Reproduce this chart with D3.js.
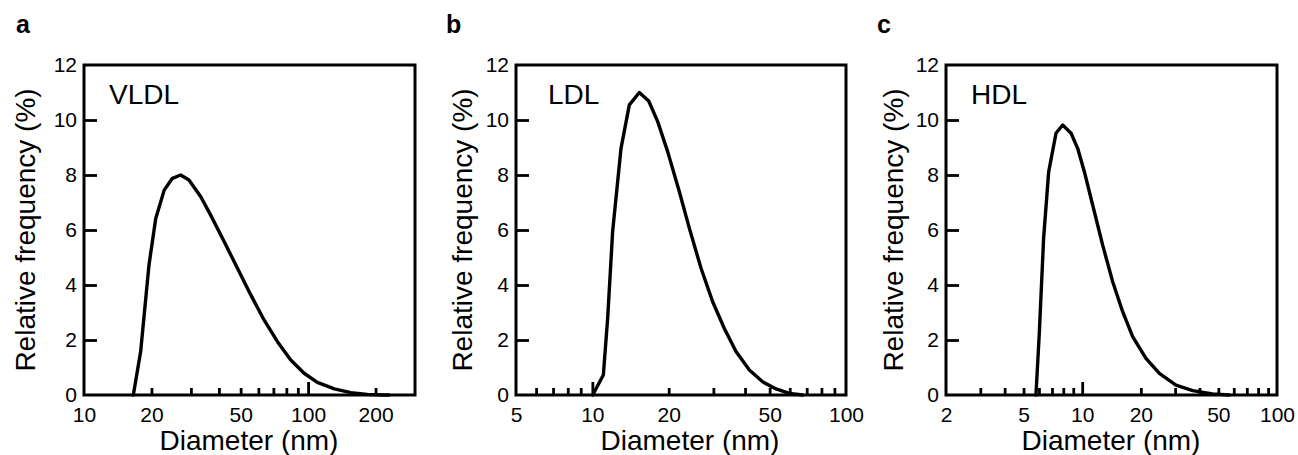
<!DOCTYPE html>
<html><head><meta charset="utf-8">
<script src="https://cdn.jsdelivr.net/npm/d3@7"></script>
<style>body{margin:0;background:#fff}</style>
</head><body>
<svg id="chart" width="1298" height="455"></svg>
<script>
// ---- data ----
const vldlDiameter = [16.6, 17.9, 19.5, 20.9, 22.8, 24.8, 27.0, 29.4, 33.2, 36.7, 42.2, 48.4, 55.5, 63.6, 73.0, 83.7, 96.0, 110, 131, 155, 184, 218, 230];
const vldlFreq     = [0, 1.58, 4.73, 6.42, 7.45, 7.88, 8.0, 7.82, 7.21, 6.55, 5.58, 4.61, 3.64, 2.73, 1.94, 1.27, 0.79, 0.46, 0.22, 0.085, 0.024, 0.0, 0];

const ldlDiameter = [10.03, 11.05, 11.49, 12.02, 12.97, 13.99, 15.32, 16.68, 18.1, 19.81, 22.03, 24.13, 26.82, 29.81, 33.14, 36.84, 41.6, 46.9, 53.0, 59.8, 67.5];
const ldlFreq     = [0, 0.73, 2.79, 5.94, 8.97, 10.55, 11.0, 10.69, 9.94, 8.85, 7.39, 6.06, 4.61, 3.39, 2.42, 1.58, 0.91, 0.48, 0.22, 0.06, 0];

const hdlDiameter = [5.79, 6.03, 6.34, 6.73, 7.34, 7.94, 8.77, 9.48, 10.26, 11.32, 12.74, 14.34, 16.14, 18.16, 21.25, 24.9, 30.3, 36.9, 46.7, 56.9];
const hdlFreq     = [0, 2.30, 5.70, 8.12, 9.52, 9.82, 9.52, 8.97, 8.12, 6.91, 5.45, 4.12, 3.03, 2.12, 1.33, 0.79, 0.36, 0.16, 0.04, 0];

const vldlXTickLabels = [10, 20, 50, 100, 200];
const ldlXTickLabels  = [5, 10, 20, 50, 100];
const hdlXTickLabels  = [2, 5, 10, 20, 50, 100];
const yTickValues = [0, 2, 4, 6, 8, 10, 12];

const panelLetters = ['a', 'b', 'c'];
const panelNames = ['VLDL', 'LDL', 'HDL'];
const xLabel = 'Diameter (nm)';
const yLabel = 'Relative frequency (%)';

// ---- layout ----
const FONT = '"Liberation Sans", Arial, Helvetica, sans-serif';
const plotTop = 65, plotBottom = 395;

const panels = [
  {letter: panelLetters[0], name: panelNames[0], diam: vldlDiameter, freq: vldlFreq, domain: [10, 300], left: 84, right: 415, labels: vldlXTickLabels, ylabX: 35, xlabCx: 249, letterX: 16, nameX: 109},
  {letter: panelLetters[1], name: panelNames[1], diam: ldlDiameter, freq: ldlFreq, domain: [5, 100], left: 516, right: 846, labels: ldlXTickLabels, ylabX: 472, xlabCx: 690, letterX: 446, nameX: 548},
  {letter: panelLetters[2], name: panelNames[2], diam: hdlDiameter, freq: hdlFreq, domain: [2, 100], left: 946, right: 1277, labels: hdlXTickLabels, ylabX: 903, xlabCx: 1111, letterX: 877, nameX: 971}
];

const svg = d3.select('#chart');

panels.forEach(p => {
  const x = d3.scaleLog().domain(p.domain).range([p.left, p.right]);
  const y = d3.scaleLinear().domain([0, 12]).range([plotBottom, plotTop]);
  const g = svg.append('g');

  // panel letter
  g.append('text').attr('x', p.letterX).attr('y', 33)
    .attr('font-family', FONT).attr('font-weight', 'bold').attr('font-size', 25)
    .text(p.letter);

  // minor/major x ticks (inward)
  const allTicks = x.ticks().filter(v => v > p.domain[0] * 1.0001 && v < p.domain[1] * 0.9999);
  const isMajor = v => Math.abs(Math.log10(v) - Math.round(Math.log10(v))) < 1e-6;
  const xTickAxis = d3.axisBottom(x).tickValues(allTicks).tickFormat('').tickSizeOuter(0).tickSizeInner(-7);
  const gxt = g.append('g').attr('transform', `translate(0,${plotBottom})`).call(xTickAxis);
  gxt.select('.domain').remove();
  gxt.selectAll('.tick line').attr('stroke', '#000').attr('stroke-width', 2.8)
    .attr('y2', d => isMajor(d) ? -13 : -7);

  // x tick labels
  const xLabAxis = d3.axisBottom(x).tickValues(p.labels).tickFormat(d3.format('d')).tickSize(0);
  const gxl = g.append('g').attr('transform', `translate(0,${plotBottom})`).call(xLabAxis);
  gxl.select('.domain').remove();
  gxl.selectAll('.tick line').remove();
  gxl.selectAll('.tick text').attr('font-family', FONT).attr('font-size', 21).attr('fill', '#000')
    .attr('y', 27).attr('dy', 0);

  // y axis (inward ticks)
  const yAxis = d3.axisLeft(y).tickValues(yTickValues).tickFormat(d3.format('d')).tickSizeOuter(0).tickSizeInner(-13).tickPadding(7);
  const gy = g.append('g').attr('transform', `translate(${p.left},0)`).call(yAxis);
  gy.select('.domain').remove();
  gy.selectAll('.tick line').attr('stroke', '#000').attr('stroke-width', 2.8)
    .attr('display', d => (d === 0 || d === 12) ? 'none' : null);
  gy.selectAll('.tick text').attr('font-family', FONT).attr('font-size', 21).attr('fill', '#000');

  // frame
  g.append('rect').attr('x', p.left).attr('y', plotTop).attr('width', p.right - p.left).attr('height', plotBottom - plotTop)
    .attr('fill', 'none').attr('stroke', '#000').attr('stroke-width', 3);

  // curve
  const pts = p.diam.map((d, i) => [d, p.freq[i]]);
  const line = d3.line().x(d => x(d[0])).y(d => y(d[1]));
  g.append('path').datum(pts).attr('d', line).attr('fill', 'none')
    .attr('stroke', '#000').attr('stroke-width', 3.4).attr('stroke-linejoin', 'round').attr('stroke-linecap', 'round');

  // name
  g.append('text').attr('x', p.nameX).attr('y', 104)
    .attr('font-family', FONT).attr('font-size', 28).text(p.name);

  // axis labels
  g.append('text').attr('x', p.xlabCx).attr('y', 450)
    .attr('text-anchor', 'middle').attr('font-family', FONT).attr('font-size', 28).text(xLabel);
  g.append('text').attr('transform', `translate(${p.ylabX},${(plotTop + plotBottom) / 2}) rotate(-90)`)
    .attr('text-anchor', 'middle').attr('font-family', FONT).attr('font-size', 28).text(yLabel);
});
</script>
</body></html>
